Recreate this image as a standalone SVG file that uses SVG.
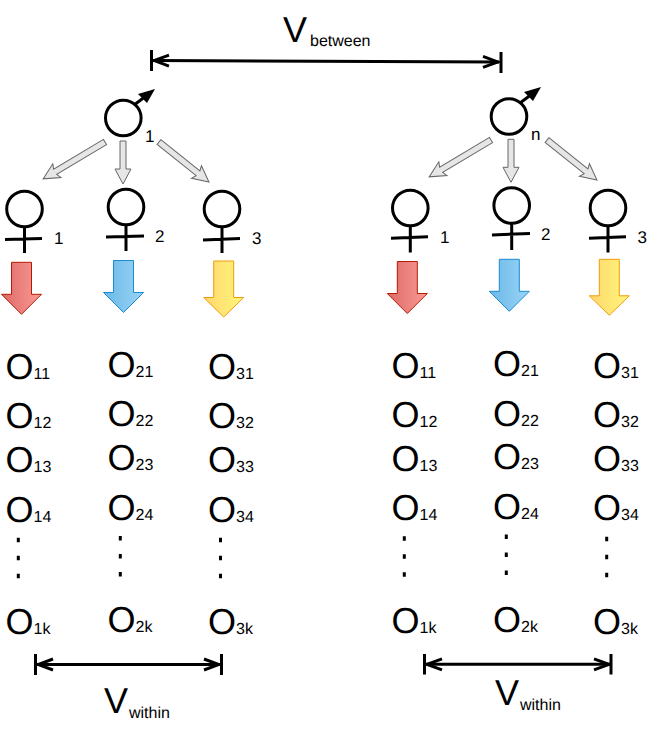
<svg xmlns="http://www.w3.org/2000/svg" width="653" height="729" viewBox="0 0 653 729">
<style>
text{font-family:"Liberation Sans",Arial,sans-serif;fill:#000;text-rendering:geometricPrecision}
.o{font-size:36px}.o tspan{font-size:16px}
.n{font-size:17px}.s{font-size:16px}.v{font-size:36px}
.c{fill:#fff;stroke:#000;stroke-width:3}
.l{fill:none;stroke:#000;stroke-width:3}
.g{fill:#e6e6e6;stroke:#666;stroke-width:1}
.m{fill:none;stroke:#000;stroke-width:3}
.d{fill:none;stroke:#000;stroke-width:3;stroke-dasharray:4.5 13.5}
.red{fill:url(#r);stroke:#b31b00;stroke-width:1}
.blue{fill:url(#b);stroke:#1a8ad4;stroke-width:1}
.yel{fill:url(#y);stroke:#ee9c0a;stroke-width:1}
</style>
<defs>
<linearGradient id="r"><stop offset="0" stop-color="#dc6a66"/><stop offset="1" stop-color="#fb9a96"/></linearGradient>
<linearGradient id="b"><stop offset="0" stop-color="#6bb8e8"/><stop offset="1" stop-color="#9ad4f6"/></linearGradient>
<linearGradient id="y"><stop offset="0" stop-color="#ffd76e"/><stop offset="1" stop-color="#fff57a"/></linearGradient>
<path id="ar" d="M10,0H30V32H40L20,52L0,32H10Z"/>
<path id="ay" d="M10,0H30V36.500H40L20,56L0,36.500H10Z"/>
<marker id="ms" markerUnits="userSpaceOnUse" markerWidth="20" markerHeight="16" refX="1" refY="8" orient="auto"><path d="M17,2.500L2,8L17,13.500" fill="none" stroke="#000" stroke-width="3"/></marker>
<marker id="me" markerUnits="userSpaceOnUse" markerWidth="20" markerHeight="16" refX="19" refY="8" orient="auto"><path d="M3,2.500L18,8L3,13.500" fill="none" stroke="#000" stroke-width="3"/></marker>
</defs>

<g id="connectors">
<path class="g" d="M0,-3H58L56,-8L72,0L56,8L58,3H0Z" transform="translate(105,142) rotate(149.200)"/>
<path class="g" d="M0,-3H28V-8L43,0L28,8V3H0Z" transform="translate(123,141) rotate(90)"/>
<path class="g" d="M0,-3H50L48,-8L64,0L48,8L50,3H0Z" transform="translate(159,142) rotate(38.700)"/>
<path class="g" d="M0,-3H58L56,-8L72,0L56,8L58,3H0Z" transform="translate(491,140) rotate(149.200)"/>
<path class="g" d="M0,-3H28V-8L43,0L28,8V3H0Z" transform="translate(511,139.300) rotate(90)"/>
<path class="g" d="M0,-3H50L48,-8L64,0L48,8L50,3H0Z" transform="translate(547,140) rotate(38.700)"/>
<path class="m" d="M153,60.500L499,62" marker-start="url(#ms)" marker-end="url(#me)"/>
<path class="m" d="M151.500,50V71M501,52V73"/>
<path class="m" d="M37,664.500H220" marker-start="url(#ms)" marker-end="url(#me)"/>
<path class="m" d="M35.500,654V675M221.500,654V675"/>
<path class="m" d="M426,664.300H610" marker-start="url(#ms)" marker-end="url(#me)"/>
<path class="m" d="M424.500,654V674.500M611,654V674.500"/>
</g>

<g id="male-1"><circle class="c" cx="123.300" cy="118" r="17.800"/><path class="l" d="M134,105L146,96"/><path d="M155,89L138,94L147,103Z"/><text class="n" x="145" y="142">1</text></g>
<g id="male-n"><circle class="c" cx="509" cy="116.500" r="17.800"/><path class="l" d="M520,103L532,94"/><path d="M541,87L524,92L533,101Z"/><text class="n" x="531" y="140">n</text></g>

<g id="female-1-1"><circle class="c" cx="24.500" cy="209" r="17.800"/><path class="l" d="M24.500,227V253M5,239.500L42,238.500"/><text class="n" x="54" y="244">1</text></g>
<g id="female-1-2"><circle class="c" cx="126" cy="207" r="17.800"/><path class="l" d="M126,225V251M106,237L144,236"/><text class="n" x="155" y="241.500">2</text></g>
<g id="female-1-3"><circle class="c" cx="222" cy="209" r="17.800"/><path class="l" d="M222,227V253M203,240L240,238.500"/><text class="n" x="252" y="243.500">3</text></g>
<g id="female-n-1"><circle class="c" cx="410.300" cy="208" r="17.800"/><path class="l" d="M410.300,226V252.500M391,238.300L428,236.800"/><text class="n" x="440" y="243">1</text></g>
<g id="female-n-2"><circle class="c" cx="511.700" cy="205.500" r="17.800"/><path class="l" d="M511.700,223V250M492,235L530,233.500"/><text class="n" x="541" y="240">2</text></g>
<g id="female-n-3"><circle class="c" cx="608" cy="208" r="17.800"/><path class="l" d="M608,226V252.500M589,238.300L626,236.800"/><text class="n" x="637.500" y="243">3</text></g>

<g id="arrows">
<use href="#ar" class="red" x="1.500" y="262.300"/>
<use href="#ar" class="blue" x="103.500" y="260.500"/>
<use href="#ay" class="yel" x="203.700" y="261"/>
<use href="#ar" class="red" x="387.300" y="261.500"/>
<use href="#ar" class="blue" x="489.300" y="259.300"/>
<use href="#ay" class="yel" x="589.300" y="259.300"/>
</g>

<g id="obs-1-1">
<text class="o" x="5.500" y="379">O<tspan>11</tspan></text><text class="o" x="5.500" y="428">O<tspan>12</tspan></text><text class="o" x="5.500" y="471.500">O<tspan>13</tspan></text><text class="o" x="5.500" y="521.500">O<tspan>14</tspan></text><text class="o" x="5.500" y="634">O<tspan>1k</tspan></text>
<path class="d" d="M18.300,537.750V580"/></g>
<g id="obs-1-2">
<text class="o" x="107.500" y="377">O<tspan>21</tspan></text><text class="o" x="107.500" y="426">O<tspan>22</tspan></text><text class="o" x="107.500" y="469.500">O<tspan>23</tspan></text><text class="o" x="107.500" y="519.500">O<tspan>24</tspan></text><text class="o" x="107.500" y="632">O<tspan>2k</tspan></text>
<path class="d" d="M120.300,536V578"/></g>
<g id="obs-1-3">
<text class="o" x="208" y="379">O<tspan>31</tspan></text><text class="o" x="208" y="428">O<tspan>32</tspan></text><text class="o" x="208" y="471.500">O<tspan>33</tspan></text><text class="o" x="208" y="521.500">O<tspan>34</tspan></text><text class="o" x="208" y="634">O<tspan>3k</tspan></text>
<path class="d" d="M220.500,537.750V580"/></g>
<g id="obs-n-1">
<text class="o" x="391.500" y="377.500">O<tspan>11</tspan></text><text class="o" x="391.500" y="427">O<tspan>12</tspan></text><text class="o" x="391.500" y="470.500">O<tspan>13</tspan></text><text class="o" x="391.500" y="520">O<tspan>14</tspan></text><text class="o" x="391.500" y="633">O<tspan>1k</tspan></text>
<path class="d" d="M404.300,536.250V578"/></g>
<g id="obs-n-2">
<text class="o" x="493" y="376">O<tspan>21</tspan></text><text class="o" x="493" y="426">O<tspan>22</tspan></text><text class="o" x="493" y="469">O<tspan>23</tspan></text><text class="o" x="493" y="519">O<tspan>24</tspan></text><text class="o" x="493" y="631.700">O<tspan>2k</tspan></text>
<path class="d" d="M506.300,534.500V576"/></g>
<g id="obs-n-3">
<text class="o" x="593" y="378">O<tspan>31</tspan></text><text class="o" x="593" y="427">O<tspan>32</tspan></text><text class="o" x="593" y="470.500">O<tspan>33</tspan></text><text class="o" x="593" y="520">O<tspan>34</tspan></text><text class="o" x="593" y="633.500">O<tspan>3k</tspan></text>
<path class="d" d="M606.700,536.750V578"/></g>

<g id="labels">
<text class="v" x="283" y="42">V</text><text class="s" x="310" y="46">between</text>
<text class="v" x="104" y="713">V</text><text class="s" x="129" y="718">within</text>
<text class="v" x="495" y="705">V</text><text class="s" x="520" y="710">within</text>
</g>
</svg>
